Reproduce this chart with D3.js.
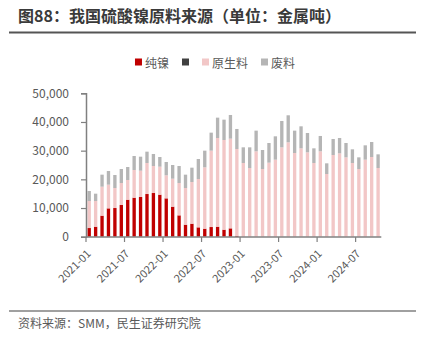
<!DOCTYPE html>
<html><head><meta charset="utf-8">
<script src="https://cdn.jsdelivr.net/npm/d3@7"></script>
<style>
html,body{margin:0;padding:0;background:#fff;}
svg{display:block;font-family:"Noto Sans CJK SC","Microsoft YaHei",sans-serif;}
</style></head>
<body><svg id="c" width="423" height="341"></svg>
<script>
const months = ["2021-01","2021-02","2021-03","2021-04","2021-05","2021-06","2021-07","2021-08","2021-09","2021-10","2021-11","2021-12",
"2022-01","2022-02","2022-03","2022-04","2022-05","2022-06","2022-07","2022-08","2022-09","2022-10","2022-11","2022-12",
"2023-01","2023-02","2023-03","2023-04","2023-05","2023-06","2023-07","2023-08","2023-09","2023-10","2023-11","2023-12",
"2024-01","2024-02","2024-03","2024-04","2024-05","2024-06","2024-07","2024-08","2024-09","2024-10"];
const tickLabels = ["2021-01","2021-07","2022-01","2022-07","2023-01","2023-07","2024-01","2024-07"];
const yTicks = [0,10000,20000,30000,40000,50000];
const pureNickel = [3020,3490,7330,9880,10000,11050,12900,13600,13840,14880,15230,14650,
13370,10470,7440,4190,4530,3260,2790,3370,3490,2440,2910,300,
0,0,0,0,0,0,0,0,0,0,0,0,0,0,0,0,0,0,0,0,0,0];
const other = [0,0,0,0,0,0,0,0,0,0,0,0,0,0,0,0,0,0,0,0,0,0,0,0,
0,0,0,0,0,0,0,0,0,0,0,0,0,0,0,0,0,0,0,0,0,0];
const primary = [9420,8950,10110,8260,6980,7670,6870,9660,9180,10820,9420,9770,
8030,9760,11280,12790,14540,16860,21400,26630,30930,31280,31280,30280,
25700,23950,29770,23600,25810,26860,31160,32910,29190,30810,29420,25700,
29770,21860,28490,29070,27670,25700,23600,26860,27790,23950];
const scrap = [3490,2560,4190,4760,4530,4880,4530,4880,4880,3950,4190,3370,
4650,4770,5930,4650,5000,6970,5810,6280,7090,7090,8250,6980,
5460,7210,7210,6630,6860,8140,9190,9420,7790,7680,6740,5110,
5350,3720,5580,5350,5000,4770,4070,5000,5230,4770];
const seriesNames = ["纯镍","","原生料","废料"];
const seriesColors = ["#C00000","#404040","#F2C7C7","#B5B5B5"];

const svg = d3.select("#c");
const textColor = "#595959";

// title
svg.append("text").attr("x",18).attr("y",22)
  .attr("font-size",16).attr("font-weight","bold").attr("fill","#3a3a3a")
  .text("图88：我国硫酸镍原料来源（单位：金属吨）");
svg.append("line").attr("x1",9).attr("x2",416).attr("y1",32.5).attr("y2",32.5)
  .attr("stroke","#555").attr("stroke-width",2);

// scales
const x = d3.scaleBand().domain(months).range([86,381.3]).paddingInner(0.48).paddingOuter(0.24);
const y = d3.scaleLinear().domain([0,50000]).range([236.7,93.3]);

// stack
const keys = ["pure","other","primary","scrap"];
const rows = months.map((m,i)=>({m, pure:pureNickel[i], other:other[i], primary:primary[i], scrap:scrap[i]}));
const stacked = d3.stack().keys(keys)(rows);

svg.append("g").selectAll("g").data(stacked).join("g")
  .attr("fill",(d,i)=>seriesColors[i])
  .selectAll("rect").data(d=>d).join("rect")
  .attr("x",d=>x(d.data.m))
  .attr("width",x.bandwidth())
  .attr("y",d=>y(d[1]))
  .attr("height",d=>Math.max(0,y(d[0])-y(d[1])));

// y axis
const yAxis = d3.axisLeft(y).tickValues(yTicks).tickSize(5).tickPadding(12)
  .tickFormat(d3.format(","));
const gy = svg.append("g").attr("transform","translate(86,0)").call(yAxis);
gy.select(".domain").attr("stroke","#808080").attr("stroke-width",1.5);
gy.selectAll(".tick line").attr("stroke","#808080").attr("stroke-width",1.2);
gy.selectAll(".tick text").attr("font-size",12).attr("fill",textColor)
  .attr("font-family","'Noto Sans CJK SC',sans-serif");

// x axis
const bandStart = m => 86 + (x.step()) * months.indexOf(m);
const gx = svg.append("g");
gx.append("line").attr("x1",86).attr("x2",381.3).attr("y1",237).attr("y2",237)
  .attr("stroke","#808080").attr("stroke-width",1.5);
gx.selectAll("line.t").data(tickLabels).join("line").attr("class","t")
  .attr("x1",d=>bandStart(d)).attr("x2",d=>bandStart(d))
  .attr("y1",237).attr("y2",242).attr("stroke","#808080").attr("stroke-width",1.2);
gx.selectAll("text").data(tickLabels).join("text")
  .attr("transform",d=>`translate(${bandStart(d)+2},${251}) rotate(-45)`)
  .attr("text-anchor","end").attr("dominant-baseline","central")
  .attr("font-size",11).attr("fill",textColor).text(d=>d);

// legend
const lg = svg.append("g");
let cx = 0;
seriesNames.forEach((n,i)=>{
  const g = lg.append("g").attr("transform",`translate(${cx},0)`);
  g.append("rect").attr("x",0).attr("y",-3.5).attr("width",7).attr("height",7).attr("fill",seriesColors[i]);
  let w = 7;
  if(n){
    const t = g.append("text").attr("x",10).attr("y",0).attr("dominant-baseline","central")
      .attr("font-size",12).attr("fill",textColor).text(n);
    w = 10 + t.node().getComputedTextLength();
  }
  cx += w + 13;
});
const lw = cx - 13;
lg.attr("transform",`translate(${215 - lw/2},62)`);

// bottom
svg.append("line").attr("x1",9).attr("x2",416).attr("y1",311).attr("y2",311)
  .attr("stroke","#808080").attr("stroke-width",1.5);
svg.append("text").attr("x",18).attr("y",328).attr("font-size",12).attr("fill",textColor)
  .text("资料来源：SMM，民生证券研究院");
</script></body></html>
